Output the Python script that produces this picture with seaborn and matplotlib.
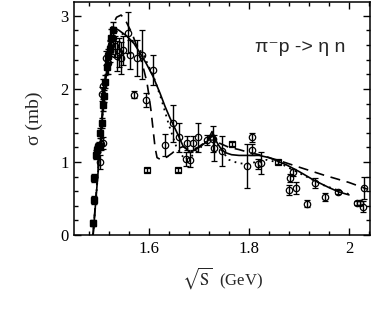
import numpy as np
import pandas as pd
import matplotlib
matplotlib.use("Agg")
import matplotlib.pyplot as plt
from matplotlib.ticker import MultipleLocator
import seaborn as sns

# threshold data (filled squares)
sq_x = [1.487, 1.489, 1.490, 1.493, 1.495, 1.497, 1.499, 1.502, 1.505, 1.507,
        1.510, 1.512, 1.515, 1.518, 1.521, 1.524, 1.527]
sq_y = [0.16, 0.48, 0.78, 1.10, 1.16, 1.20, 1.22, 1.40, 1.53, 1.78,
        1.90, 2.10, 2.30, 2.45, 2.55, 2.70, 2.80]
sq_err = [0.04, 0.05, 0.05, 0.06, 0.06, 0.06, 0.06, 0.07, 0.07, 0.08,
          0.08, 0.09, 0.10, 0.10, 0.10, 0.12, 0.12]

# open circles with error bars
circ_x = [1.502, 1.503, 1.508, 1.505, 1.507, 1.514, 1.518, 1.521, 1.524, 1.528,
          1.532, 1.535, 1.540, 1.544, 1.548, 1.558, 1.562, 1.570, 1.576, 1.586,
          1.594, 1.608, 1.632, 1.648, 1.660, 1.674, 1.676, 1.682, 1.688, 1.698,
          1.716, 1.727, 1.730, 1.746, 1.796, 1.806, 1.806, 1.818, 1.824, 1.880,
          1.882, 1.888, 1.894, 1.916, 1.932, 1.952, 1.978, 2.016, 2.022, 2.028,
          2.030]
circ_y = [1.00, 1.25, 1.26, 1.93, 2.04, 2.42, 2.35, 2.52, 2.60, 2.70,
          2.58, 2.45, 2.50, 2.42, 2.53, 2.77, 2.47, 1.92, 2.42, 2.47,
          1.85, 2.26, 1.23, 1.53, 1.34, 1.04, 1.26, 1.03, 1.26, 1.34,
          1.30, 1.31, 1.19, 1.15, 0.95, 1.34, 1.17, 0.97, 0.98, 0.62,
          0.78, 0.86, 0.64, 0.43, 0.71, 0.52, 0.59, 0.44, 0.44, 0.39,
          0.64]
circ_err = [0.10, 0.08, 0.08, 0.10, 0.10, 0.10, 0.15, 0.15, 0.12, 0.15,
            0.15, 0.20, 0.20, 0.22, 0.20, 0.28, 0.20, 0.05, 0.25, 0.33,
            0.10, 0.20, 0.15, 0.25, 0.20, 0.10, 0.10, 0.10, 0.10, 0.20,
            0.07, 0.18, 0.18, 0.20, 0.30, 0.06, 0.07, 0.07, 0.15, 0.07,
            0.05, 0.05, 0.08, 0.05, 0.07, 0.05, 0.03, 0.03, 0.03, 0.07,
            0.15]

# small open squares
osq_x = [1.596, 1.658, 1.766, 1.858]
osq_y = [0.89, 0.89, 1.25, 1.00]
osq_err = [0.03, 0.03, 0.03, 0.03]

tri_x = [1.726]
tri_y = [1.36]

# model curves
solid_x = [1.488, 1.495, 1.502, 1.510, 1.518, 1.525, 1.530, 1.540, 1.556, 1.570,
           1.582, 1.595, 1.608, 1.622, 1.632, 1.642, 1.656, 1.668, 1.682, 1.698,
           1.716, 1.726, 1.733, 1.742, 1.752, 1.765, 1.780, 1.800, 1.820, 1.840,
           1.858, 1.875, 1.900, 1.930, 1.960, 1.980, 2.000]
solid_y = [0.00, 0.60, 1.20, 1.90, 2.45, 2.78, 2.84, 2.80, 2.72, 2.62,
           2.49, 2.34, 2.17, 1.94, 1.76, 1.60, 1.40, 1.22, 1.13, 1.19,
           1.28, 1.37, 1.30, 1.20, 1.13, 1.10, 1.09, 1.09, 1.09, 1.06,
           1.01, 0.96, 0.87, 0.75, 0.65, 0.59, 0.55]

dash_x = [1.488, 1.495, 1.502, 1.510, 1.518, 1.526, 1.535, 1.544, 1.552, 1.560,
          1.566, 1.574, 1.582, 1.590, 1.596, 1.600, 1.604, 1.608, 1.612, 1.616,
          1.624, 1.636, 1.646, 1.656, 1.668, 1.682, 1.698, 1.716, 1.726, 1.740,
          1.760, 1.780, 1.800, 1.820, 1.840, 1.860, 1.900, 1.950, 2.000, 2.036]
dash_y = [0.00, 0.65, 1.30, 2.00, 2.55, 2.85, 2.98, 3.01, 2.95, 2.84,
          2.76, 2.61, 2.44, 2.25, 2.08, 1.90, 1.70, 1.45, 1.20, 1.06,
          1.03, 1.07, 1.12, 1.18, 1.21, 1.16, 1.20, 1.29, 1.37, 1.26,
          1.20, 1.17, 1.13, 1.10, 1.06, 1.02, 0.93, 0.82, 0.72, 0.63]

dot_x = [1.488, 1.495, 1.502, 1.510, 1.518, 1.525, 1.530, 1.545, 1.560, 1.575,
         1.590, 1.610, 1.625, 1.640, 1.655, 1.672, 1.690, 1.710, 1.726, 1.740,
         1.760, 1.780, 1.800, 1.836, 1.860, 1.900, 1.950, 2.000]
dot_y = [0.00, 0.60, 1.20, 1.90, 2.45, 2.76, 2.80, 2.76, 2.70, 2.60,
         2.45, 2.15, 1.85, 1.50, 1.20, 1.03, 1.10, 1.25, 1.40, 1.20,
         1.03, 0.98, 0.98, 1.03, 0.99, 0.85, 0.68, 0.56]

sns.set_style("ticks")
plt.rcParams["font.family"] = ["Liberation Serif", "DejaVu Serif"]
plt.rcParams["mathtext.fontset"] = "stix"

fig = plt.figure(figsize=(3.76, 3.16), dpi=100)
ax = fig.add_axes([0.197, 0.256, 0.787, 0.738])

sns.lineplot(x=solid_x, y=solid_y, ax=ax, color="black", lw=1.2, estimator=None)
sns.lineplot(x=dash_x, y=dash_y, ax=ax, color="black", lw=1.2, estimator=None,
             linestyle=(0, (6, 4)))
sns.lineplot(x=dot_x, y=dot_y, ax=ax, color="black", lw=1.3, estimator=None,
             linestyle=(0, (1, 2.5)))

ax.errorbar(sq_x, sq_y, yerr=sq_err, fmt="s", ms=4, mfc="black", mec="black",
            ecolor="black", elinewidth=1, capsize=2)
ax.errorbar(circ_x, circ_y, yerr=circ_err, fmt="o", ms=4.6, mfc="none", mec="black",
            mew=0.9, ecolor="black", elinewidth=1, capsize=2.5)
ax.errorbar(osq_x, osq_y, yerr=osq_err, fmt="s", ms=4, mfc="none", mec="black",
            mew=0.9, ecolor="black", elinewidth=1, capsize=2)
sns.scatterplot(x=tri_x, y=tri_y, ax=ax, marker="^", s=40, facecolor="none",
                edgecolor="black", linewidth=1)

ax.set_xlim(1.45, 2.042)
ax.set_ylim(0, 3.19)
ax.xaxis.set_major_locator(MultipleLocator(0.2))
ax.xaxis.set_minor_locator(MultipleLocator(0.04))
ax.yaxis.set_major_locator(MultipleLocator(1))
ax.yaxis.set_minor_locator(MultipleLocator(0.2))
ax.set_xticks([1.6, 1.8, 2.0])
ax.set_xticklabels(["1.6", "1.8", "2"])
ax.tick_params(which="both", direction="in", top=True, right=True, width=1,
               labelsize=12, colors="black", pad=4)
ax.tick_params(which="major", length=5)
ax.tick_params(which="minor", length=3)
for s in ax.spines.values():
    s.set_linewidth(1.1)
    s.set_color("black")

ax.set_xlabel(r"$\sqrt{\mathrm{S}}$  (GeV)", fontsize=12, labelpad=6)
ax.set_ylabel(r"σ (mb)", fontsize=14, labelpad=12)

ax.text(0.61, 0.805, "π\u207bp -> η n", transform=ax.transAxes, fontsize=14,
        family=["Liberation Sans", "DejaVu Sans"], va="center")

fig.savefig("out.png", dpi=100)
